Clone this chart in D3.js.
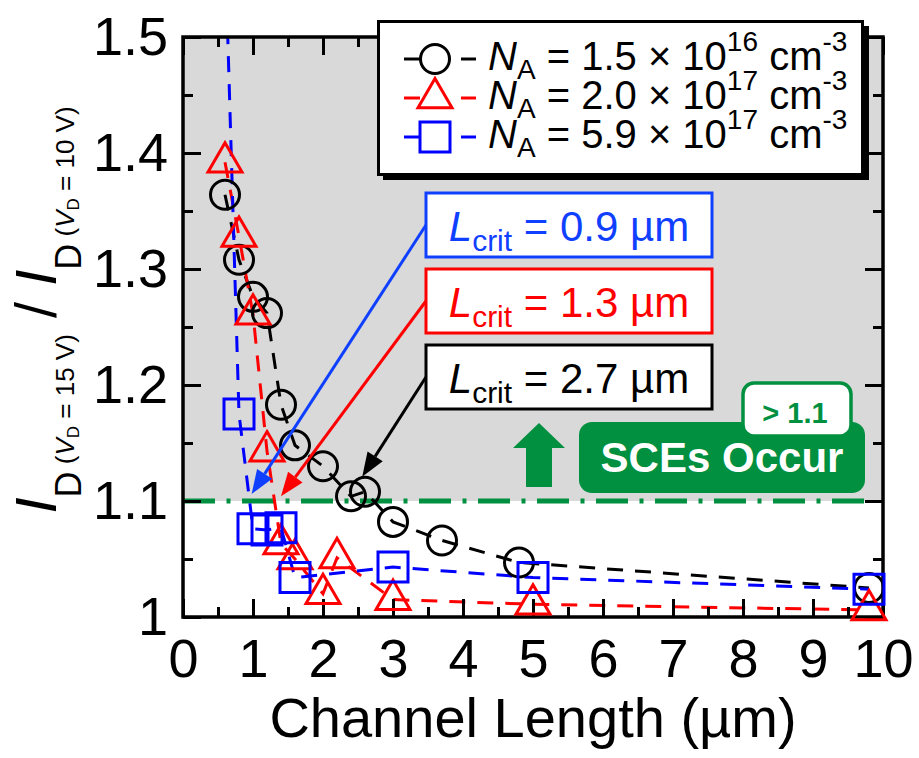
<!DOCTYPE html>
<html>
<head>
<meta charset="utf-8">
<script src="https://cdn.jsdelivr.net/npm/d3@7"></script>
<style>
  html, body { margin: 0; padding: 0; background: #fff; }
  svg { display: block; font-family: "Liberation Sans", Arial, Helvetica, sans-serif; }
</style>
</head>
<body>
<svg id="chart" width="919" height="758"></svg>
<script>
// Channel length (µm) and drain-current ratio ID(VD=15 V)/ID(VD=10 V) for three doping levels
const lenLow  = [0.6, 0.8, 1.0, 1.2, 1.4, 1.6, 2.0, 2.4, 2.6, 3.0, 3.7, 4.8, 9.8];
const ratioLow = [1.364, 1.308, 1.276, 1.262, 1.183, 1.148, 1.130, 1.104, 1.108, 1.082, 1.066, 1.047, 1.025];

const lenMid  = [0.6, 0.8, 1.0, 1.2, 1.4, 1.6, 2.0, 2.2, 3.0, 5.0, 9.8];
const ratioMid = [1.392, 1.328, 1.261, 1.143, 1.063, 1.050, 1.020, 1.051, 1.015, 1.011, 1.006];

const lenHigh  = [0.6, 0.8, 1.0, 1.2, 1.4, 1.6, 3.0, 5.0, 9.8];
const ratioHigh = [1.58, 1.175, 1.076, 1.075, 1.077, 1.034, 1.043, 1.034, 1.024];

const seriesNames = ["1.5", "2.0", "5.9"];
const seriesExp = ["16", "17", "17"];
const seriesColors = ["#000000", "#ff0000", "#0000ff"];
const seriesShapes = ["circle", "triangle", "square"];

const critValues = ["0.9", "1.3", "2.7"];
const critColors = ["#1040ff", "#ff0000", "#000000"];

const xTicks = [0, 1, 2, 3, 4, 5, 6, 7, 8, 9, 10];
const xTickLabels = ["0", "1", "2", "3", "4", "5", "6", "7", "8", "9", "10"];
const yTicks = [1.0, 1.1, 1.2, 1.3, 1.4, 1.5];
const yTickLabels = ["1", "1.1", "1.2", "1.3", "1.4", "1.5"];
const threshold = 1.1;

const svg = d3.select("#chart");
const plot = { left: 183, right: 883, top: 37, bottom: 617 };
const x = d3.scaleLinear().domain([0, 10]).range([plot.left, plot.right]);
const y = d3.scaleLinear().domain([1.0, 1.5]).range([plot.bottom, plot.top]);
const green = "#00903f";

// clip regions
const defs = svg.append("defs");
defs.append("clipPath").attr("id", "plotClip").append("rect")
  .attr("x", plot.left).attr("y", plot.top)
  .attr("width", plot.right - plot.left).attr("height", plot.bottom - plot.top);
defs.append("clipPath").attr("id", "markerClip").append("rect")
  .attr("x", plot.left - 30).attr("y", plot.top)
  .attr("width", plot.right - plot.left + 60).attr("height", plot.bottom - plot.top + 30);

// shaded region above the SCE threshold
svg.append("rect")
  .attr("x", plot.left).attr("y", plot.top)
  .attr("width", plot.right - plot.left).attr("height", y(threshold) - plot.top)
  .attr("fill", "#d9d9d9");

// threshold line
svg.append("line")
  .attr("x1", x(0)).attr("x2", x(9.8))
  .attr("y1", y(threshold)).attr("y2", y(threshold))
  .attr("stroke", green).attr("stroke-width", 5)
  .attr("stroke-dasharray", "32 11.5 4 11.5");

// series
const series = [
  { L: lenLow, R: ratioLow },
  { L: lenMid, R: ratioMid },
  { L: lenHigh, R: ratioHigh }
];
const line = d3.line().x(d => x(d[0])).y(d => y(d[1]));
const lineLayer = svg.append("g").attr("clip-path", "url(#plotClip)");
series.forEach((s, i) => {
  const pts = s.L.map((l, k) => [l, s.R[k]]);
  lineLayer.append("path")
    .attr("d", line(pts))
    .attr("fill", "none")
    .attr("stroke", seriesColors[i])
    .attr("stroke-width", 3)
    .attr("stroke-dasharray", "16 12");
});

function markerPath(shape) {
  if (shape === "circle") return d3.symbol(d3.symbolCircle, Math.PI * 14.5 * 14.5)();
  if (shape === "square") return "M-15,-15H15V15H-15Z";
  // triangle centred on its centroid
  return "M0,-19.5L17,9.8L-17,9.8Z";
}

const markerLayer = svg.append("g").attr("clip-path", "url(#markerClip)");
series.forEach((s, i) => {
  markerLayer.selectAll(null)
    .data(s.L.map((l, k) => [l, s.R[k]]))
    .join("path")
    .attr("transform", d => `translate(${x(d[0])},${y(d[1])})`)
    .attr("d", markerPath(seriesShapes[i]))
    .attr("fill", "none")
    .attr("stroke", seriesColors[i])
    .attr("stroke-width", 3);
});

// axes: major and minor ticks pointing inward on all four sides
function addAxis(axisFn, scale, translate, values, size, labels) {
  const a = axisFn(scale).tickValues(values).tickSize(-size);
  if (labels) a.tickFormat((d, i) => labels[i]).tickPadding(axisFn === d3.axisBottom ? 22 : 15);
  else a.tickFormat("");
  const g = svg.append("g").attr("transform", translate).call(a);
  g.select(".domain").remove();
  g.selectAll(".tick line").attr("stroke", "#000").attr("stroke-width", 3);
  g.selectAll(".tick text").attr("font-size", 54).attr("fill", "#000")
    .attr("font-family", "'Liberation Sans', Arial, sans-serif");
  return g;
}
const xMinor = d3.range(0.5, 10, 1);
const yMinor = [1.05, 1.15, 1.25, 1.35, 1.45];
addAxis(d3.axisBottom, x, `translate(0,${plot.bottom})`, xTicks, 18, xTickLabels);
addAxis(d3.axisBottom, x, `translate(0,${plot.bottom})`, xMinor, 10);
addAxis(d3.axisTop, x, `translate(0,${plot.top})`, xTicks, 18);
addAxis(d3.axisTop, x, `translate(0,${plot.top})`, xMinor, 10);
addAxis(d3.axisLeft, y, `translate(${plot.left},0)`, yTicks, 18, yTickLabels);
addAxis(d3.axisLeft, y, `translate(${plot.left},0)`, yMinor, 10);
addAxis(d3.axisRight, y, `translate(${plot.right},0)`, yTicks, 18);
addAxis(d3.axisRight, y, `translate(${plot.right},0)`, yMinor, 10);

svg.append("rect")
  .attr("x", plot.left).attr("y", plot.top)
  .attr("width", plot.right - plot.left).attr("height", plot.bottom - plot.top)
  .attr("fill", "none").attr("stroke", "#000").attr("stroke-width", 3.5);

// markers at the right edge sit above the frame
markerLayer.raise();

// axis titles
svg.append("text")
  .attr("x", (plot.left + plot.right) / 2).attr("y", 737)
  .attr("text-anchor", "middle").attr("font-size", 56)
  .text("Channel Length (µm)");

const yt = svg.append("text")
  .attr("transform", "translate(56,310) rotate(-90)")
  .attr("text-anchor", "middle");
function ratioPart(volts) {
  yt.append("tspan").attr("font-size", 58).attr("font-style", "italic").text("I");
  yt.append("tspan").attr("font-size", 36).attr("dy", 25).text("D");
  yt.append("tspan").attr("font-size", 26).attr("dy", -7).text(" (");
  yt.append("tspan").attr("font-size", 26).attr("font-style", "italic").text("V");
  yt.append("tspan").attr("font-size", 17).attr("dy", 5).text("D");
  yt.append("tspan").attr("font-size", 26).attr("dy", -5).text(` = ${volts} V)`);
}
ratioPart("15");
yt.append("tspan").attr("font-size", 58).attr("dy", -18).text(" / ");
ratioPart("10");

// Lcrit call-out boxes with arrows
const boxes = [
  { top: 193, tip: [0.98, 1.106] },
  { top: 269, tip: [1.40, 1.104] },
  { top: 345, tip: [2.56, 1.121] }
];
const boxL = 426, boxR = 712, boxH = 64;
boxes.forEach((b, i) => {
  const c = critColors[i];
  const sx = boxL, sy = b.top + boxH / 2;
  const tx = x(b.tip[0]), ty = y(b.tip[1]);
  const ang = Math.atan2(ty - sy, tx - sx);
  const hl = 24, hw = 9;
  const bx = tx - hl * Math.cos(ang), by = ty - hl * Math.sin(ang);
  svg.append("line")
    .attr("x1", sx).attr("y1", sy).attr("x2", bx).attr("y2", by)
    .attr("stroke", c).attr("stroke-width", 3);
  svg.append("path")
    .attr("d", `M${tx},${ty}L${bx + hw * Math.sin(ang)},${by - hw * Math.cos(ang)}L${bx - hw * Math.sin(ang)},${by + hw * Math.cos(ang)}Z`)
    .attr("fill", c);
  svg.append("rect")
    .attr("x", boxL).attr("y", b.top).attr("width", boxR - boxL).attr("height", boxH)
    .attr("fill", "#fff").attr("stroke", c).attr("stroke-width", 3);
  const t = svg.append("text")
    .attr("x", (boxL + boxR) / 2).attr("y", b.top + 48)
    .attr("text-anchor", "middle").attr("fill", c).attr("font-size", 42);
  t.append("tspan").attr("font-style", "italic").text("L");
  t.append("tspan").attr("font-size", 30).attr("dy", 10).text("crit");
  t.append("tspan").attr("dy", -10).text(` = ${critValues[i]} µm`);
});

// SCE indicator
svg.append("path")
  .attr("d", "M539,423L565,448L552,448L552,487L526,487L526,448L513,448Z")
  .attr("fill", green);
svg.append("rect")
  .attr("x", 579).attr("y", 422).attr("width", 286).attr("height", 71)
  .attr("rx", 13).attr("fill", green);
svg.append("text")
  .attr("x", 722).attr("y", 472).attr("text-anchor", "middle")
  .attr("font-size", 42).attr("font-weight", "bold").attr("fill", "#fff")
  .text("SCEs Occur");
svg.append("rect")
  .attr("x", 743).attr("y", 383).attr("width", 108).attr("height", 53)
  .attr("rx", 11).attr("fill", "#fff").attr("stroke", green).attr("stroke-width", 3.5);
svg.append("text")
  .attr("x", 795).attr("y", 423).attr("text-anchor", "middle")
  .attr("font-size", 29).attr("font-weight", "bold").attr("fill", green)
  .text("> 1.1");

// legend
const lg = svg.append("g");
lg.append("rect").attr("x", 383).attr("y", 26).attr("width", 486).attr("height", 154).attr("fill", "#000");
lg.append("rect").attr("x", 378.5).attr("y", 21.5).attr("width", 484).attr("height", 153)
  .attr("fill", "#fff").attr("stroke", "#000").attr("stroke-width", 3);
const rowBase = [70, 109, 148];
seriesNames.forEach((n, i) => {
  const cy = rowBase[i] - 11;
  const c = seriesColors[i];
  lg.append("line").attr("x1", 404).attr("x2", 420).attr("y1", cy).attr("y2", cy)
    .attr("stroke", c).attr("stroke-width", 3);
  lg.append("line").attr("x1", 461).attr("x2", 476).attr("y1", cy).attr("y2", cy)
    .attr("stroke", c).attr("stroke-width", 3);
  lg.append("path").attr("transform", `translate(435,${cy})`)
    .attr("d", markerPath(seriesShapes[i]))
    .attr("fill", "none").attr("stroke", c).attr("stroke-width", 3);
  const t = lg.append("text").attr("x", 488).attr("y", rowBase[i]).attr("font-size", 40);
  t.append("tspan").attr("font-style", "italic").text("N");
  t.append("tspan").attr("font-size", 28).attr("dy", 9).text("A");
  t.append("tspan").attr("dy", -9).text(` = ${n} × 10`);
  t.append("tspan").attr("font-size", 28).attr("dy", -19).text(seriesExp[i]);
  t.append("tspan").attr("dy", 19).text(" cm");
  t.append("tspan").attr("font-size", 28).attr("dy", -19).text("-3");
});
</script>
</body>
</html>
